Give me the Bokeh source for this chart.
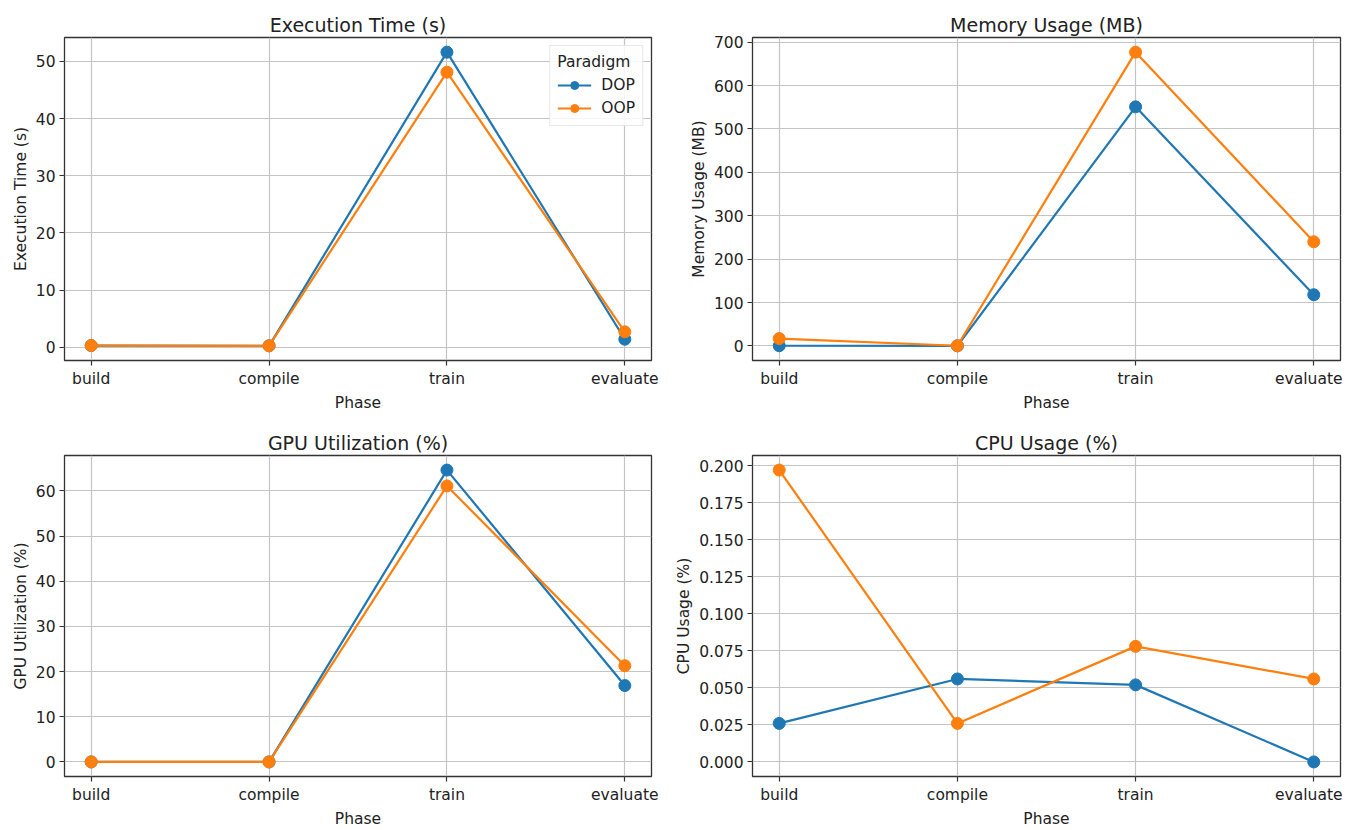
from bokeh.plotting import figure
from bokeh.models import Range1d, FixedTicker, Legend, LegendItem, NumeralTickFormatter
from bokeh.layouts import column, row
from bokeh.embed import file_html
from bokeh.resources import INLINE

phases = ["build", "compile", "train", "evaluate"]
paradigms = ["DOP", "OOP"]

exec_dop = [0.3, 0.25, 51.6, 1.4]
exec_oop = [0.3, 0.25, 48.1, 2.7]
mem_dop = [0.5, 0.3, 551, 118]
mem_oop = [17, 0.5, 677, 240]
gpu_dop = [0.0, 0.0, 64.6, 16.9]
gpu_oop = [0.0, 0.0, 61.1, 21.3]
cpu_dop = [0.026, 0.056, 0.052, 0.0]
cpu_oop = [0.197, 0.026, 0.078, 0.056]

exec_ticks = [0, 10, 20, 30, 40, 50]
mem_ticks = [0, 100, 200, 300, 400, 500, 600, 700]
gpu_ticks = [0, 10, 20, 30, 40, 50, 60]
cpu_ticks = [0.0, 0.025, 0.05, 0.075, 0.1, 0.125, 0.15, 0.175, 0.2]

colors = {"DOP": "#1f77b4", "OOP": "#ff7f0e"}
FONT = "DejaVu Sans"


def panel(title, ylabel, dop, oop, ticks, fmt, width, height, bl, br, bt, bb, legend=False):
    xs = list(range(len(phases)))
    allv = dop + oop
    lo, hi = min(allv), max(allv)
    pad = (hi - lo) * 0.05
    xpad = (xs[-1] - xs[0]) * 0.05
    p = figure(width=width, height=height, output_backend="svg", toolbar_location=None,
               x_range=Range1d(xs[0] - xpad, xs[-1] + xpad),
               y_range=Range1d(lo - pad, hi + pad),
               min_border_left=bl, min_border_right=br, min_border_top=bt, min_border_bottom=bb,
               title=title)
    p.title.text_font = FONT
    p.title.text_font_size = "19px"
    p.title.text_font_style = "normal"
    p.title.text_color = "#222222"
    p.title.align = "center"
    p.title.standoff = 4
    p.outline_line_color = "#333333"
    p.outline_line_width = 1.3
    p.outline_line_alpha = 1.0
    p.background_fill_color = "white"

    p.xaxis.ticker = FixedTicker(ticks=xs)
    p.xaxis.major_label_overrides = {i: ph for i, ph in enumerate(phases)}
    p.yaxis.ticker = FixedTicker(ticks=ticks)
    p.yaxis.formatter = NumeralTickFormatter(format=fmt)
    p.xaxis.axis_label = "Phase"
    p.yaxis.axis_label = ylabel
    for ax in (p.xaxis[0], p.yaxis[0]):
        ax.axis_line_color = None
        ax.major_tick_in = 0
        ax.major_tick_out = 5
        ax.major_tick_line_color = "#333333"
        ax.major_tick_line_width = 1.2
        ax.minor_tick_line_color = None
        ax.major_label_text_font = FONT
        ax.major_label_text_font_size = "15.5px"
        ax.major_label_text_color = "#222222"
        ax.axis_label_text_font = FONT
        ax.axis_label_text_font_size = "15.5px"
        ax.axis_label_text_font_style = "normal"
        ax.axis_label_text_color = "#222222"
        ax.major_label_standoff = 4
        ax.axis_label_standoff = 3
    p.grid.grid_line_color = "#c4c4c4"
    p.grid.grid_line_width = 1.2

    items = []
    for name, vals in (("DOP", dop), ("OOP", oop)):
        ln = p.line(xs, vals, line_color=colors[name], line_width=2.2)
        sc = p.scatter(xs, vals, size=12, fill_color=colors[name], line_color=colors[name])
        items.append(LegendItem(label=name, renderers=[ln, sc]))
    if legend:
        lg = Legend(items=items, location="top_right", title="Paradigm")
        lg.title_text_font = FONT
        lg.title_text_font_size = "15.5px"
        lg.title_text_font_style = "normal"
        lg.title_text_color = "#222222"
        lg.title_standoff = 4
        lg.label_text_font = FONT
        lg.label_text_font_size = "15.5px"
        lg.label_text_color = "#222222"
        lg.border_line_color = "#d0d0d0"
        lg.border_line_width = 1
        lg.background_fill_alpha = 0.85
        lg.margin = 8
        lg.padding = 7
        lg.spacing = 3
        lg.glyph_width = 34
        lg.glyph_height = 20
        lg.label_standoff = 10
        lg.label_height = 20
        p.add_layout(lg)
    return p


p1 = panel("Execution Time (s)", "Execution Time (s)", exec_dop, exec_oop, exec_ticks, "0",
           680, 414, 64, 29, 37, 52, legend=True)
p2 = panel("Memory Usage (MB)", "Memory Usage (MB)", mem_dop, mem_oop, mem_ticks, "0",
           662, 414, 72, 2, 37, 52)
p3 = panel("GPU Utilization (%)", "GPU Utilization (%)", gpu_dop, gpu_oop, gpu_ticks, "0",
           672, 416, 64, 21, 41, 50)
p4 = panel("CPU Usage (%)", "CPU Usage (%)", cpu_dop, cpu_oop, cpu_ticks, "0.000",
           670, 416, 80, 2, 41, 50)

layout = column(row(p1, p2), row(p3, p4))
open("out.html", "w").write(file_html(layout, INLINE))
